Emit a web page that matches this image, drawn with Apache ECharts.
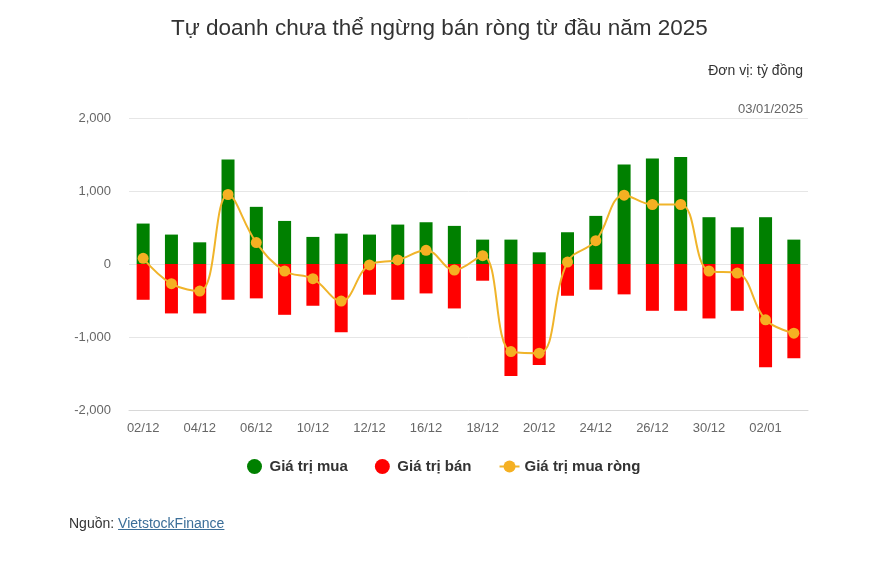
<!DOCTYPE html>
<html>
<head>
<meta charset="utf-8">
<script src="https://cdn.jsdelivr.net/npm/echarts@6/dist/echarts.min.js"></script>
<style>
html,body{margin:0;padding:0;background:#fff;}
#c{width:896px;height:565px;}
#src{position:absolute;left:69px;top:515px;font-family:"Liberation Sans",Arial,sans-serif;font-size:14px;color:#333;}
#src span{color:#3b6e98;text-decoration:underline;}
</style>
</head>
<body>
<div id="c"></div>
<div id="src">Nguồn: <span>VietstockFinance</span></div>
<script>
const categories = ["02/12","03/12","04/12","05/12","06/12","09/12","10/12","11/12","12/12","13/12","16/12","17/12","18/12","19/12","20/12","23/12","24/12","25/12","26/12","27/12","30/12","31/12","02/01","03/01"];
const buyValues = [554,403,297,1432,783,590,371,416,403,540,572,522,334,334,160,435,659,1364,1446,1465,641,503,641,334];
const sellValues = [-490,-677,-677,-490,-471,-696,-572,-934,-421,-490,-403,-609,-229,-1533,-1382,-435,-352,-416,-641,-641,-746,-641,-1414,-1291];
const netValues = [78,-270,-371,952,293,-96,-201,-508,-12,55,188,-82,114,-1199,-1222,27,320,943,815,815,-96,-124,-764,-947];
const yTicks = [-2000,-1000,0,1000,2000];

const chart = echarts.init(document.getElementById('c'));
const font = '"Liberation Sans", Arial, sans-serif';
chart.setOption({
  animation:false,
  textStyle:{fontFamily:font},
  title:[
    {text:'Tự doanh chưa thể ngừng bán ròng từ đầu năm 2025',left:166,top:12,
     textStyle:{fontFamily:font,fontSize:22.5,fontWeight:'normal',color:'#333'}},
    {text:'Đơn vị: tỷ đồng',right:88,top:59,textStyle:{fontFamily:font,fontSize:14,fontWeight:'normal',color:'#333'}},
    {text:'03/01/2025',right:88,top:98,textStyle:{fontFamily:font,fontSize:13,fontWeight:'normal',color:'#666'}}
  ],
  legend:{
    top:454,left:242,itemGap:27,itemWidth:20,itemHeight:15,
    textStyle:{fontFamily:font,fontSize:15,fontWeight:'bold',color:'#333'},
    data:[
      {name:'Giá trị mua',icon:'circle'},
      {name:'Giá trị bán',icon:'circle'},
      {name:'Giá trị mua ròng'}
    ]
  },
  grid:{left:129,right:88,top:118,bottom:155},
  xAxis:{
    type:'category',data:categories,
    axisLine:{onZero:false,lineStyle:{color:'#d8d8d8'}},
    axisTick:{show:false},
    axisLabel:{interval:1,color:'#666',fontSize:13,margin:12,fontFamily:font}
  },
  yAxis:{
    type:'value',min:yTicks[0],max:yTicks[yTicks.length-1],interval:1000,
    axisLine:{show:false},axisTick:{show:false},
    splitLine:{lineStyle:{color:'#e6e6e6'}},
    axisLabel:{color:'#666',fontSize:13,margin:18,fontFamily:font,
      formatter:v=>v.toLocaleString('en-US')}
  },
  series:[
    {name:'Giá trị mua',type:'bar',data:buyValues,barWidth:13,barGap:'-100%',
     itemStyle:{color:'#008000'}},
    {name:'Giá trị bán',type:'bar',data:sellValues,barWidth:13,
     itemStyle:{color:'#ff0000'}},
    {name:'Giá trị mua ròng',type:'line',data:netValues,smooth:0.4,
     symbol:'circle',symbolSize:11,z:5,
     lineStyle:{color:'#f0b42a',width:2},itemStyle:{color:'#f5b022'}}
  ]
});
</script>
</body>
</html>
